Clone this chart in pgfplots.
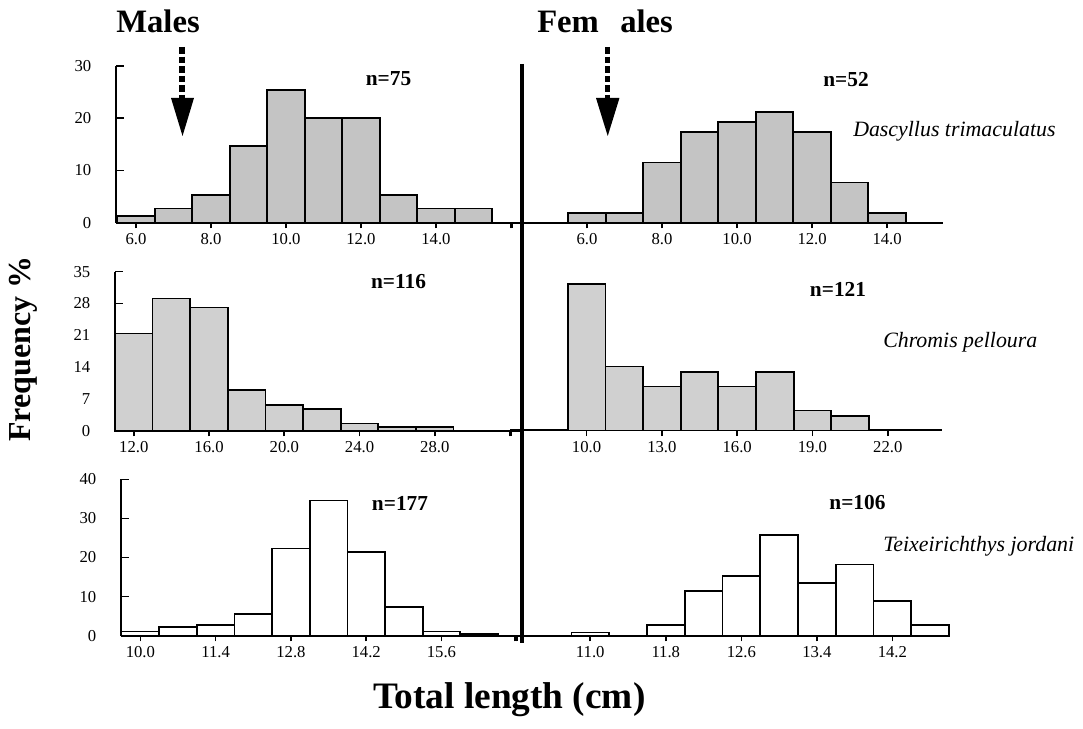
\documentclass[border=0pt]{standalone}
\usepackage{fontspec}
\setmainfont{Liberation Serif}
\usepackage{pgfplots}
\pgfplotsset{compat=1.18}

\definecolor{fillA}{RGB}{196,196,196}
\definecolor{fillB}{RGB}{208,208,208}

\pgfplotsset{
  hist/.style={
    scale only axis, clip=false, anchor=south west,
    axis x line*=bottom, axis y line*=left,
    axis line style={-, line width=1.5pt},
    tick align=outside, major tick length=4.3pt,
    every tick/.style={black, line width=1.2pt},
    ymin=0, ybar, bar shift=0pt,
    tick label style={font=\fontsize{12.5}{14}\selectfont},
    every axis plot/.append style={draw=black, line width=1.3pt},
  },
  lefthist/.style={hist, ytick=\empty,
    extra y tick style={tick align=inside, major tick length=6pt,
      yticklabel style={xshift=-15pt}}},
  righthist/.style={hist, axis y line=none},
}

\begin{document}
\begin{tikzpicture}
\path[use as bounding box] (0,0) rectangle (812.25pt,546.75pt);

% ---------- Dascyllus trimaculatus ----------
\begin{axis}[lefthist, at={(87pt,379.725pt)}, width=303pt, height=117.75pt,
  xmin=5.467, xmax=16.24, ymax=30, bar width=1,
  xtick={6,8,10,12,14,16}, xticklabels={6.0,8.0,10.0,12.0,14.0,{}},
  extra y ticks={0,10,20,30}, extra y tick labels={0,10,20,30}]
\addplot[fill=fillA] coordinates {(6,1.3)(7,2.7)(8,5.3)(9,14.7)(10,25.3)(11,20.0)(12,20.0)(13,5.3)(14,2.7)(15,2.7)};
\end{axis}

\begin{axis}[righthist, at={(382.5pt,379.725pt)}, width=324.75pt, height=117.75pt,
  xmin=3.947, xmax=15.49, ymax=30, bar width=1,
  xtick={4,6,8,10,12,14}, xticklabels={{},6.0,8.0,10.0,12.0,14.0}]
\addplot[fill=fillA] coordinates {(6,1.9)(7,1.9)(8,11.5)(9,17.3)(10,19.2)(11,21.1)(12,17.3)(13,7.7)(14,1.9)};
\end{axis}

% ---------- Chromis pelloura ----------
\begin{axis}[lefthist, at={(86.25pt,223.725pt)}, width=303.75pt, height=119.25pt,
  xmin=11, xmax=32.53, ymax=35, bar width=2,
  xtick={12,16,20,24,28,32}, xticklabels={12.0,16.0,20.0,24.0,28.0,{}},
  extra y ticks={0,7,14,21,28,35}, extra y tick labels={0,7,14,21,28,35}]
\addplot[fill=fillB] coordinates {(12,21.4)(14,29.1)(16,27.1)(18,8.9)(20,5.6)(22,4.8)(24,1.6)(26,0.8)(28,0.8)};
\end{axis}

\begin{axis}[righthist, at={(382.5pt,223.875pt)}, width=324pt, height=119.25pt,
  xmin=6.95, xmax=24.16, ymax=35, bar width=1.5,
  xtick={7,10,13,16,19,22}, xticklabels={{},10.0,13.0,16.0,19.0,22.0}]
\addplot[fill=fillB] coordinates {(10,32.3)(11.5,14.1)(13,9.7)(14.5,12.8)(16,9.7)(17.5,12.8)(19,4.4)(20.5,3.2)};
\end{axis}

% ---------- Teixeirichthys jordani ----------
\begin{axis}[lefthist, at={(90.75pt,69.975pt)}, width=299.25pt, height=117.3pt,
  xmin=9.64, xmax=17.06, ymax=40, bar width=0.7,
  xtick={10.0,11.4,12.8,14.2,15.6,17.0}, xticklabels={10.0,11.4,12.8,14.2,15.6,{}},
  extra y ticks={0,10,20,30,40}, extra y tick labels={0,10,20,30,40}]
\addplot[fill=white] coordinates {(10.0,1.1)(10.7,2.3)(11.4,2.8)(12.1,5.6)(12.8,22.3)(13.5,34.6)(14.2,21.5)(14.9,7.3)(15.6,1.1)(16.3,0.4)};
\end{axis}

\begin{axis}[righthist, at={(382.5pt,69.975pt)}, width=330pt, height=117.3pt,
  xmin=10.15, xmax=14.81, ymax=40, bar width=0.4,
  xtick={10.2,11.0,11.8,12.6,13.4,14.2}, xticklabels={{},11.0,11.8,12.6,13.4,14.2}]
\addplot[fill=white] coordinates {(11.0,0.8)(11.8,2.7)(12.2,11.5)(12.6,15.3)(13.0,25.7)(13.4,13.5)(13.8,18.2)(14.2,8.8)(14.6,2.7)};
\end{axis}

% separator between the sexes
\draw[line width=3.3pt] (391.5pt,498.75pt) -- (391.5pt,64.5pt);

% headings
\node[anchor=base west, inner sep=0, font=\bfseries\fontsize{24.5}{28}\selectfont] at (87pt,522pt) {Males};
\node[anchor=base west, inner sep=0, font=\bfseries\fontsize{24.5}{28}\selectfont] at (402.75pt,522pt) {Fem\hspace{16pt}ales};

% arrows
\draw[line width=4pt, dash pattern=on 5pt off 2.2pt] (136.5pt,511.5pt) -- (136.5pt,473pt);
\fill (128.25pt,473.25pt) -- (145.5pt,473.25pt) -- (136.9pt,444.75pt) -- cycle;
\draw[line width=4pt, dash pattern=on 5pt off 2.2pt] (455.8pt,511.5pt) -- (455.8pt,473pt);
\fill (447pt,473.25pt) -- (464.6pt,473.25pt) -- (455.8pt,444.75pt) -- cycle;

% sample sizes
\begin{scope}[every node/.style={font=\bfseries\fontsize{16}{18}\selectfont}]
\node at (291.4pt,487.5pt) {n=75};
\node at (634.5pt,486.75pt) {n=52};
\node at (298.9pt,335.25pt) {n=116};
\node at (628.5pt,330pt) {n=121};
\node at (300pt,169.5pt) {n=177};
\node at (643.1pt,169.5pt) {n=106};
\end{scope}

% species names
\begin{scope}[every node/.style={anchor=base west, inner sep=0, font=\itshape\fontsize{16.4}{18}\selectfont}]
\node at (639.75pt,444.2pt) {Dascyllus trimaculatus};
\node at (662.25pt,285.75pt) {Chromis pelloura};
\node at (662.25pt,132.75pt) {Teixeirichthys jordani};
\end{scope}

% axis titles
\node[rotate=90, font=\bfseries\fontsize{24}{28}\selectfont] at (17.25pt,285pt) {Frequency \%};
\node[anchor=base, font=\bfseries\fontsize{28}{32}\selectfont] at (382pt,15pt) {Total length (cm)};
\end{tikzpicture}
\end{document}
